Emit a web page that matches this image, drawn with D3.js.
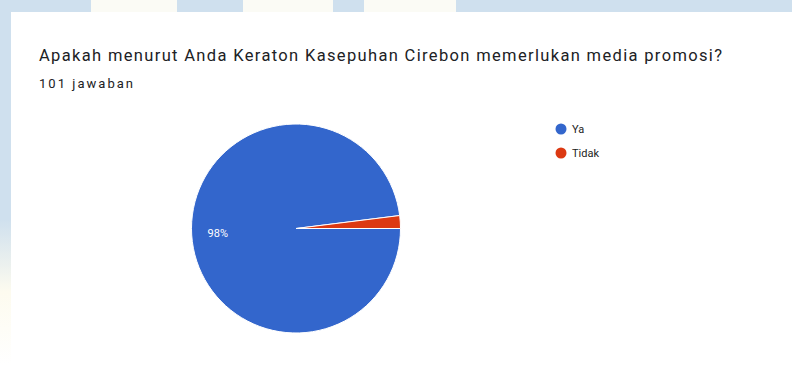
<!DOCTYPE html>
<html>
<head>
<meta charset="utf-8">
<script src="https://cdn.jsdelivr.net/npm/d3@7"></script>
<style>
  html, body { margin: 0; padding: 0; background: #fff; }
  svg { display: block; font-family: Roboto, Arial, sans-serif; }
</style>
</head>
<body>
<svg id="chart" width="792" height="365"></svg>
<script>
const categories = ['Ya', 'Tidak'];
const counts = [99, 2];
const colors = ['#3366cc', '#dc3912'];
const title = 'Apakah menurut Anda Keraton Kasepuhan Cirebon memerlukan media promosi?';
const subtitle = '101 jawaban';

const svg = d3.select('#chart');
const W = 792, H = 365;

// page backdrop behind the form card
const bg = svg.append('g');
bg.append('rect').attr('width', W).attr('height', H).attr('fill', '#cfe0ee');
[[91, 86], [243, 90], [364, 92]].forEach(([x, w]) => {
	bg.append('rect').attr('x', x).attr('y', 0).attr('width', w).attr('height', 12).attr('fill', '#fbfbf5');
});
const fade = svg.append('defs').append('linearGradient')
	.attr('id', 'fade').attr('x1', 0).attr('y1', 0).attr('x2', 0).attr('y2', 1);
fade.append('stop').attr('offset', '0.6').attr('stop-color', '#cfe0ee');
fade.append('stop').attr('offset', '0.8').attr('stop-color', '#fdfbef');
fade.append('stop').attr('offset', '1').attr('stop-color', '#ffffff');
bg.append('rect').attr('x', 0).attr('y', 0).attr('width', 11).attr('height', H).attr('fill', 'url(#fade)');
bg.append('rect').attr('x', 11).attr('y', 12).attr('width', W - 11).attr('height', H - 12).attr('fill', '#fff');

// title
svg.append('text')
	.attr('x', 39).attr('y', 61)
	.attr('font-size', 16.5).attr('fill', '#202124')
	.attr('textLength', 683).attr('lengthAdjust', 'spacing')
	.text(title);
svg.append('text')
	.attr('x', 39).attr('y', 88)
	.attr('font-size', 13).attr('fill', '#202124')
	.attr('textLength', 94).attr('lengthAdjust', 'spacing')
	.text(subtitle);

// pie
const cx = 296, cy = 228.5, r = 104.5;
const total = d3.sum(counts);
const pie = d3.pie().sort(null)
	.startAngle(Math.PI / 2).endAngle(Math.PI / 2 + 2 * Math.PI);
const arcs = pie(counts);
const arc = d3.arc().innerRadius(0).outerRadius(r);

const g = svg.append('g').attr('transform', `translate(${cx},${cy})`);
g.selectAll('path')
	.data(arcs)
	.join('path')
	.attr('d', arc)
	.attr('fill', (d, i) => colors[i])
	.attr('stroke', '#fff')
	.attr('stroke-width', 1);

const labelArc = d3.arc().innerRadius(r * 0.75).outerRadius(r * 0.75);
g.selectAll('text.pct')
	.data(arcs.filter(d => d.value / total > 0.05))
	.join('text')
	.attr('class', 'pct')
	.attr('transform', d => `translate(${labelArc.centroid(d)})`)
	.attr('text-anchor', 'middle')
	.attr('dy', '0.35em')
	.attr('font-size', 11)
	.attr('fill', '#fff')
	.text(d => (Math.round(d.value / total * 1000) / 10).toFixed(1).replace('.0', '') + '%');

// legend
const legend = svg.append('g').attr('transform', 'translate(561,129)');
const item = legend.selectAll('g')
	.data(categories)
	.join('g')
	.attr('transform', (d, i) => `translate(0,${i * 24})`);
item.append('circle').attr('r', 5.5).attr('fill', (d, i) => colors[i]);
item.append('text')
	.attr('x', 11).attr('dy', '0.35em')
	.attr('font-size', 11).attr('fill', '#222')
	.text(d => d);
</script>
</body>
</html>
